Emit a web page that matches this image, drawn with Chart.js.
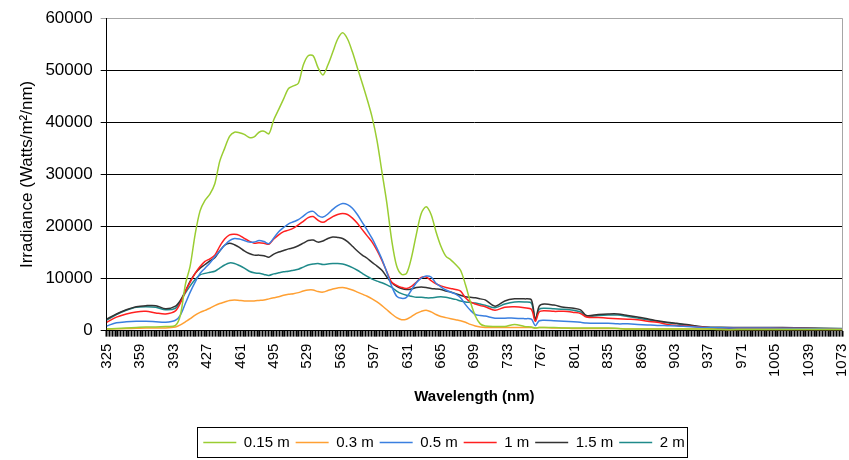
<!DOCTYPE html>
<html>
<head>
<meta charset="utf-8">
<script src="https://cdn.jsdelivr.net/npm/chart.js@4.4.1/dist/chart.umd.min.js"></script>
<style>
  body { margin: 0; background: #fff; }
  #wrap { width: 849px; height: 460px; }
</style>
</head>
<body>
<div id="wrap"><canvas id="irradianceChart"></canvas></div>
<script>
// wavelengths (nm) the curves were read at
const wavelengths = [325, 335, 345, 355, 365, 375, 385, 395,
  400, 405, 410, 415, 420, 425, 430, 435, 440, 445, 450, 455, 460, 465, 470, 475, 480, 485, 490, 495,
  500, 505, 510, 515, 520, 525, 530, 535, 540, 545, 550, 555, 560, 565, 570, 575, 580, 585, 590, 595,
  600, 605, 610, 615, 620, 625, 630, 635, 640, 645, 650, 655, 660, 665, 670, 675, 680, 685, 690, 695,
  700, 705, 710, 720, 730, 740, 750, 757, 761, 765, 770, 780, 790, 800, 807, 813,
  825, 835, 845, 855, 865, 875, 885, 895, 905, 915, 925, 935, 950, 975, 1000, 1025, 1050, 1073];

// irradiance at each depth (Watts/m2/nm)
const depth015 = [300, 400, 500, 600, 700, 700, 800, 1000,
  3000, 8800, 12500, 18500, 23000, 25000, 26200, 28200, 32500, 35000, 37300, 38100, 38000, 37700, 37100, 37200, 38100, 38300, 37800, 40500,
  42500, 44500, 46500, 47000, 47500, 51000, 52800, 52800, 50500, 49100, 51000, 53500, 56000, 57200, 56000, 53500, 50500, 47500, 44400, 41000,
  36500, 30500, 24500, 17300, 12400, 10800, 11000, 14000, 18500, 22500, 23800, 22300, 19000, 16200, 14300, 13600, 12700, 11600, 8800, 5500,
  2800, 1300, 900, 800, 800, 1200, 800, 700, 500, 600, 600, 600, 500, 500, 500, 500,
  500, 500, 400, 300, 300, 300, 300, 300, 300, 300, 300, 300, 200, 200, 200, 200, 200, 200];

const depth03 = [300, 350, 400, 450, 500, 500, 500, 700,
  1100, 1700, 2300, 3000, 3500, 3900, 4300, 4800, 5200, 5500, 5800, 5900, 5800, 5700, 5700, 5700, 5800, 5900, 6100, 6300,
  6500, 6800, 7000, 7100, 7300, 7600, 7800, 7800, 7500, 7400, 7700, 8000, 8200, 8300, 8100, 7800, 7400, 7000, 6600, 6100,
  5500, 4800, 4000, 3200, 2500, 2100, 2200, 2700, 3300, 3700, 3900, 3600, 3100, 2700, 2500, 2300, 2100, 1900, 1600, 1200,
  900, 700, 600, 600, 600, 600, 600, 600, 500, 600, 600, 500, 500, 400, 400, 400,
  400, 400, 400, 300, 300, 300, 300, 300, 300, 300, 300, 300, 200, 200, 200, 200, 200, 200];

const depth05 = [900, 1500, 1700, 1800, 1800, 1700, 1600, 2000,
  3000, 5200, 7400, 9300, 11000, 12000, 13000, 14200, 15300, 16400, 17300, 17700, 17600, 17300, 17000, 17000, 17300, 17100, 16700, 17800,
  19000, 19800, 20500, 20900, 21300, 22000, 22700, 22900, 22100, 21800, 22400, 23300, 24000, 24400, 24200, 23500, 22300, 20800, 19300, 17700,
  15800, 13700, 11200, 8500, 6600, 6200, 6400, 7800, 9200, 10100, 10500, 10300, 9100, 8400, 7800, 7400, 7000, 6300, 5000, 3900,
  3100, 2900, 2800, 2400, 2400, 2400, 2300, 2200, 950, 1900, 2000, 1900, 1800, 1700, 1600, 1450,
  1400, 1400, 1300, 1300, 1200, 1100, 1000, 950, 900, 800, 700, 600, 550, 500, 500, 450, 350, 300];

const depth1 = [1600, 2600, 3200, 3600, 3700, 3400, 3200, 3800,
  5300, 7500, 9300, 11000, 12300, 13300, 13800, 14500, 16200, 17600, 18400, 18500, 18300, 17700, 17200, 16800, 16900, 16800, 16600, 17600,
  18400, 19000, 19300, 19700, 20300, 21000, 21700, 21900, 21200, 20800, 21300, 21900, 22300, 22500, 22300, 21600, 20600, 19400, 18200, 17000,
  15400, 13500, 11300, 9300, 8700, 8300, 8100, 8500, 9300, 10200, 10300, 9600, 9000, 8600, 8300, 8100, 7900, 7600, 6300, 5500,
  5100, 4800, 4600, 3900, 4500, 4600, 4400, 4100, 1800, 3600, 3800, 3700, 3700, 3500, 3300, 2600,
  2500, 2400, 2300, 2200, 2100, 1800, 1600, 1200, 1000, 900, 750, 600, 550, 500, 500, 450, 350, 300];

const depth15 = [2200, 3200, 4000, 4600, 4800, 4800, 4200, 4700,
  5800, 7600, 9500, 11000, 12000, 12700, 13400, 14000, 15300, 16400, 16800, 16500, 16000, 15300, 14800, 14500, 14500, 14400, 14100, 14700,
  15100, 15400, 15700, 15900, 16300, 16800, 17300, 17400, 17000, 17200, 17700, 18000, 17900, 17700, 17100, 16200, 15300, 14500, 13900, 13100,
  12400, 11600, 10300, 9200, 8500, 8100, 7900, 8000, 8300, 8400, 8300, 8100, 8000, 7900, 7600, 7400, 7100, 6800, 6500, 6400,
  6300, 6100, 5900, 4700, 5700, 6100, 6100, 5900, 2100, 4700, 5100, 4900, 4500, 4300, 4000, 2900,
  3100, 3200, 3200, 2900, 2600, 2300, 1900, 1600, 1400, 1200, 900, 700, 650, 600, 600, 550, 450, 350];

const depth2 = [2000, 3100, 3900, 4500, 4600, 4500, 4000, 4300,
  5600, 7200, 8600, 9800, 10700, 11000, 11200, 11400, 12000, 12600, 13000, 12900, 12500, 12000, 11400, 11100, 11000, 10800, 10600, 10900,
  11100, 11300, 11400, 11600, 11800, 12200, 12600, 12800, 12900, 12700, 12800, 12900, 12900, 12800, 12500, 12100, 11600, 11000, 10400, 9900,
  9500, 9200, 8800, 8300, 7600, 7100, 6800, 6600, 6400, 6400, 6300, 6300, 6400, 6500, 6400, 6200, 6000, 5700, 5500, 5400,
  5300, 5100, 4900, 4400, 5100, 5500, 5500, 5300, 2100, 4100, 4300, 4200, 4100, 3900, 3600, 2700,
  2900, 3000, 3000, 2700, 2400, 2100, 1800, 1500, 1300, 1100, 800, 500, 450, 450, 450, 400, 400, 400];

const seriesNames = ['0.15 m', '0.3 m', '0.5 m', '1 m', '1.5 m', '2 m'];
const seriesColors = ['#9acd32', '#ffa033', '#3a7fe0', '#ff2020', '#333333', '#1f8a8a'];
const seriesValues = [depth015, depth03, depth05, depth1, depth15, depth2];

// axis tick labels
const xTickLabels = [325, 359, 393, 427, 461, 495, 529, 563, 597, 631, 665, 699, 733, 767, 801, 835, 869, 903, 937, 971, 1005, 1039, 1073];
const yTickLabels = [0, 10000, 20000, 30000, 40000, 50000, 60000];

const datasets = seriesNames.map((name, i) => ({
  label: name,
  data: wavelengths.map((w, j) => ({ x: w, y: seriesValues[i][j] })),
  borderColor: seriesColors[i],
  backgroundColor: seriesColors[i],
  borderWidth: 1.5,
  pointRadius: 0,
  tension: 0.3,
  fill: false
}));

const legendShift = 19;

// grey frame on the right of the plot and a box round the legend
const framePlugin = {
  id: 'frame',
  afterUpdate(chart) {
    // legend sits a little right of centre in the original
    const legend = chart.legend;
    legend.left += legendShift;
    legend.right += legendShift;
    legend.legendHitBoxes.forEach(h => { h.left += legendShift; });
  },
  afterDraw(chart) {
    const ctx = chart.ctx;
    const a = chart.chartArea;
    ctx.save();
    ctx.strokeStyle = '#a6a6a6';
    ctx.lineWidth = 1;
    ctx.beginPath();
    ctx.moveTo(Math.round(a.right) + 0.5, a.top);
    ctx.lineTo(Math.round(a.right) + 0.5, a.bottom);
    ctx.stroke();

    const boxes = chart.legend.legendHitBoxes;
    if (boxes && boxes.length) {
      let left = Infinity, right = -Infinity, top = Infinity, bottom = -Infinity;
      boxes.forEach(b => {
        left = Math.min(left, b.left);
        right = Math.max(right, b.left + b.width);
        top = Math.min(top, b.top);
        bottom = Math.max(bottom, b.top + b.height);
      });
      ctx.strokeStyle = '#000';
      ctx.strokeRect(Math.round(left - 6) + 0.5, Math.round(top - 8) + 0.5,
        Math.round(right - left + 9), Math.round(bottom - top + 15));
    }
    ctx.restore();
  }
};

const font = 'Liberation Sans, Arial, sans-serif';

const ctx = document.getElementById('irradianceChart').getContext('2d');
new Chart(ctx, {
  type: 'line',
  data: { datasets: datasets },
  plugins: [framePlugin],
  options: {
    responsive: true,
    maintainAspectRatio: false,
    animation: false,
    layout: { padding: { left: 8, right: 7, top: 5, bottom: 0 } },
    plugins: {
      tooltip: { enabled: false },
      legend: {
        position: 'bottom',
        labels: {
          usePointStyle: true,
          pointStyle: 'line',
          pointStyleWidth: 33,
          boxHeight: 15,
          padding: 6,
          color: '#000',
          font: { family: font, size: 15 }
        }
      }
    },
    scales: {
      x: {
        type: 'linear',
        min: 325,
        max: 1073,
        afterFit: (scale) => { scale.paddingRight = 0; },
        ticks: {
          stepSize: 34 / 12,
          autoSkip: false,
          minRotation: 90,
          maxRotation: 90,
          padding: 7,
          color: '#000',
          font: { family: font, size: 15 },
          callback: (value) => {
            const r = Math.round(value);
            return Math.abs(value - r) < 0.01 && xTickLabels.includes(r) ? String(r) : '';
          }
        },
        grid: {
          drawOnChartArea: false,
          drawTicks: true,
          tickLength: 6,
          tickWidth: 2,
          color: '#000'
        },
        border: { color: '#000', width: 1 },
        title: {
          display: true,
          text: 'Wavelength (nm)',
          color: '#000',
          font: { family: font, size: 15, weight: 'bold' },
          padding: { top: 4, bottom: 23 }
        }
      },
      y: {
        min: 0,
        max: 60000,
        ticks: {
          stepSize: 10000,
          padding: 8,
          color: '#000',
          font: { family: font, size: 17 },
          callback: (value) => yTickLabels.includes(value) ? String(value) : ''
        },
        grid: {
          color: (c) => c.tick && c.tick.value === 60000 ? '#a6a6a6' : '#000',
          tickLength: 6,
          lineWidth: 1
        },
        border: { color: '#000', width: 1 },
        title: {
          display: true,
          text: 'Irradiance (Watts/m²/nm)',
          color: '#000',
          font: { family: font, size: 17 },
          padding: { top: 9, bottom: 0 }
        }
      }
    }
  }
});
</script>
</body>
</html>
